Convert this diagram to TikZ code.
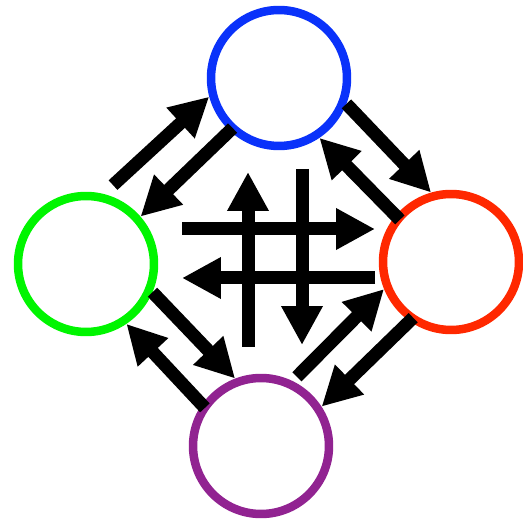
\documentclass[tikz,border=0pt]{standalone}
\usepackage{tikz}
\usetikzlibrary{positioning}
\usetikzlibrary{calc}
\usetikzlibrary{arrows.meta}
\definecolor{ringblue}{RGB}{10,50,250}
\definecolor{ringgreen}{RGB}{0,245,0}
\definecolor{ringred}{RGB}{255,40,0}
\definecolor{ringpurple}{RGB}{145,35,145}

\begin{document}
\begin{tikzpicture}[
    x=0.02cm, y=-0.02cm,
    ring/.style={circle, line width=0.17cm, minimum size=2.72cm, inner sep=0pt},
    arrow/.style={-{Triangle[length=0.78cm, width=0.78cm]}, line width=0.26cm, black}
]
    \useasboundingbox (0,0) rectangle (523,519);

    \node[ring, draw=ringblue] (blue) at (279,78) {};
    \node[ring, draw=ringgreen] (green) at (86,264) {};
    \node[ring, draw=ringred] (red) at (451,262) {};
    \node[ring, draw=ringpurple] (purple) at (261,446) {};

    \draw[arrow, shorten <=0.26cm] (green.76) -- (blue.195);
    \draw[arrow, shorten <=-0.08cm] (blue.227) -- (green.41);
    \draw[arrow] (blue.-21) -- (red.106);
    \draw[arrow, shorten <=-0.12cm] (red.140) -- (blue.-56);
    \draw[arrow] (green.-23) -- (purple.111);
    \draw[arrow, shorten <=-0.09cm] (purple.145) -- (green.-56);
    \draw[arrow, shorten <=0.12cm] (purple.64) -- (red.202);
    \draw[arrow, shorten <=-0.1cm] (red.235) -- (purple.33);

    \coordinate (east0) at (182,229);
    \coordinate (east1) at (375,229);
    \coordinate (west0) at (375,278);
    \coordinate (west1) at (182,278);
    \coordinate (north0) at (248,347);
    \coordinate (north1) at (248,172);
    \coordinate (south0) at (302,169);
    \coordinate (south1) at (302,345);

    \draw[arrow] (east0) -- (east1);
    \draw[arrow] (west0) -- (west1);
    \draw[arrow] (north0) -- (north1);
    \draw[arrow] (south0) -- (south1);
\end{tikzpicture}
\end{document}
